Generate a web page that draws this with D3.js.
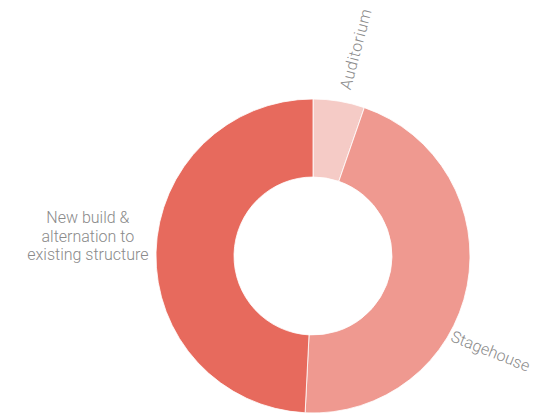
<!DOCTYPE html>
<html>
<head>
<meta charset="utf-8">
<script src="https://cdn.jsdelivr.net/npm/d3@7"></script>
<style>
  html, body { margin: 0; padding: 0; background: #fff; }
  svg { display: block; }
  .lbl { font-family: Roboto, "Noto Sans", sans-serif; font-weight: 300; font-size: 16px; fill: #8a8a8a; }
</style>
</head>
<body>
<svg id="chart" width="534" height="413"></svg>
<script>
// Share of building cost by part of the project (%)
const categories = ["Auditorium", "Stagehouse", "New build & alternation to existing structure"];
const values = [5.3, 45.5, 49.2];
const colors = ["#f5cbc6", "#ef9990", "#e76a5d"];
// Label text lines per slice
const labelLines = [["Auditorium"], ["Stagehouse"], ["New build &", "alternation to", "existing structure"]];

const W = 534, H = 413;
const cx = 313, cy = 256;
const outerR = 157, innerR = 79;

const svg = d3.select("#chart");
const g = svg.append("g").attr("transform", `translate(${cx},${cy})`);

const data = categories.map((c, i) => ({ name: c, value: values[i], color: colors[i], lines: labelLines[i] }));

const pie = d3.pie().value(d => d.value).sort(null);
const arcs = pie(data);
const arc = d3.arc().innerRadius(innerR).outerRadius(outerR);

g.selectAll("path.slice")
  .data(arcs)
  .join("path")
  .attr("class", "slice")
  .attr("d", arc)
  .attr("fill", d => d.data.color)
  .attr("stroke", "#fff")
  .attr("stroke-width", 0.8);

// Label placement: near-radial text for the right-hand slices, horizontal block for the large left slice
const labelSpec = [
  { frac: 0.57, mode: "radial", r: 170, tilt: 4, spacing: 0.6 },
  { frac: 0.615, mode: "radial", r: 160, tilt: -8, spacing: 0 },
  { frac: 0.52, mode: "flat", r: 226 }
];

arcs.forEach((a, i) => {
  const spec = labelSpec[i];
  const ang = a.startAngle + (a.endAngle - a.startAngle) * spec.frac;
  const x = Math.sin(ang) * spec.r;
  const y = -Math.cos(ang) * spec.r;
  if (spec.mode === "radial") {
    const rot = ang * 180 / Math.PI - 90 + spec.tilt;
    g.append("text")
      .attr("class", "lbl")
      .attr("transform", `translate(${x},${y}) rotate(${rot})`)
      .attr("text-anchor", "start")
      .attr("dy", "0.35em")
      .style("letter-spacing", spec.spacing + "px")
      .text(a.data.lines[0]);
  } else {
    const lh = 18.5;
    const t = g.append("text")
      .attr("class", "lbl")
      .attr("text-anchor", "middle")
      .attr("transform", `translate(${x},${y - (a.data.lines.length - 1) * lh / 2})`);
    a.data.lines.forEach((ln, k) => {
      t.append("tspan").attr("x", 0).attr("y", k * lh).attr("dy", "0.35em").text(ln);
    });
  }
});
</script>
</body>
</html>
